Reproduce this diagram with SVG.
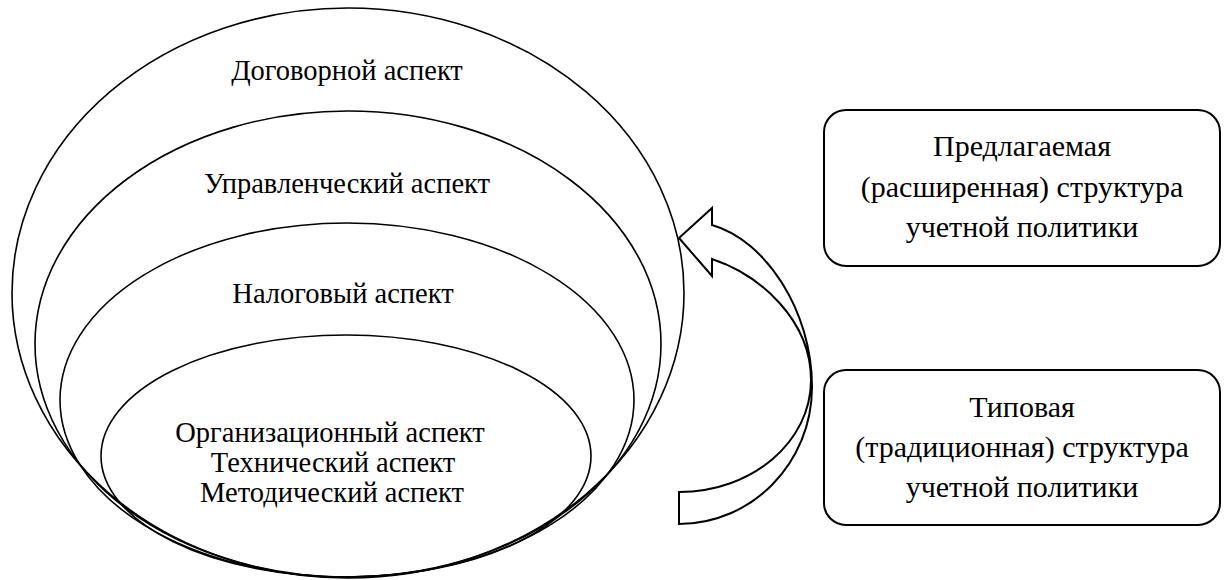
<svg xmlns="http://www.w3.org/2000/svg" width="1227" height="580" viewBox="0 0 1227 580">
<style>
.ell{fill:none;stroke:#000;stroke-width:1.6}
.box{fill:#fff;stroke:#000;stroke-width:2}
.arr{fill:#fff;stroke:#000;stroke-width:2;stroke-linejoin:miter}
.t1{font-family:'Liberation Serif',serif;font-size:28.5px;fill:#000;text-anchor:middle}
.t2{font-family:'Liberation Serif',serif;font-size:30px;fill:#000;text-anchor:middle}
</style>
<rect width="1227" height="580" fill="#fff"/>
<g id="outer-ellipse">
<ellipse class="ell" cx="348" cy="293" rx="336" ry="285"/>
<text class="t1" x="347" y="80">Договорной аспект</text>
</g>
<g id="second-ellipse">
<ellipse class="ell" cx="348" cy="344" rx="313" ry="233"/>
<text class="t1" x="347" y="193">Управленческий аспект</text>
</g>
<g id="third-ellipse">
<ellipse class="ell" cx="347" cy="400" rx="287" ry="177"/>
<text class="t1" x="343" y="303">Налоговый аспект</text>
</g>
<g id="inner-ellipse">
<ellipse class="ell" cx="346" cy="456" rx="245" ry="121"/>
<text class="t1" x="330" y="442">Организационный аспект</text>
<text class="t1" x="333" y="472">Технический аспект</text>
<text class="t1" x="332" y="502">Методический аспект</text>
</g>
<g id="connectors">
<path class="arr" d="M679,238 L712,208 L712,225 C765,240 812,310 812,387 C812,463 752,524 679,524 L679,492 C752,492 811,442 811,380 C811,320 760,275 712,259 L712,276 Z"/>
</g>
<g id="proposed-box">
<rect class="box" x="824" y="110" width="396" height="156" rx="22"/>
<text class="t2" x="1022" y="156">Предлагаемая</text>
<text class="t2" x="1022" y="197">(расширенная) структура</text>
<text class="t2" x="1022" y="237">учетной политики</text>
</g>
<g id="typical-box">
<rect class="box" x="824" y="370" width="396" height="155" rx="22"/>
<text class="t2" x="1022" y="417">Типовая</text>
<text class="t2" x="1022" y="457">(традиционная) структура</text>
<text class="t2" x="1022" y="497">учетной политики</text>
</g>
</svg>
